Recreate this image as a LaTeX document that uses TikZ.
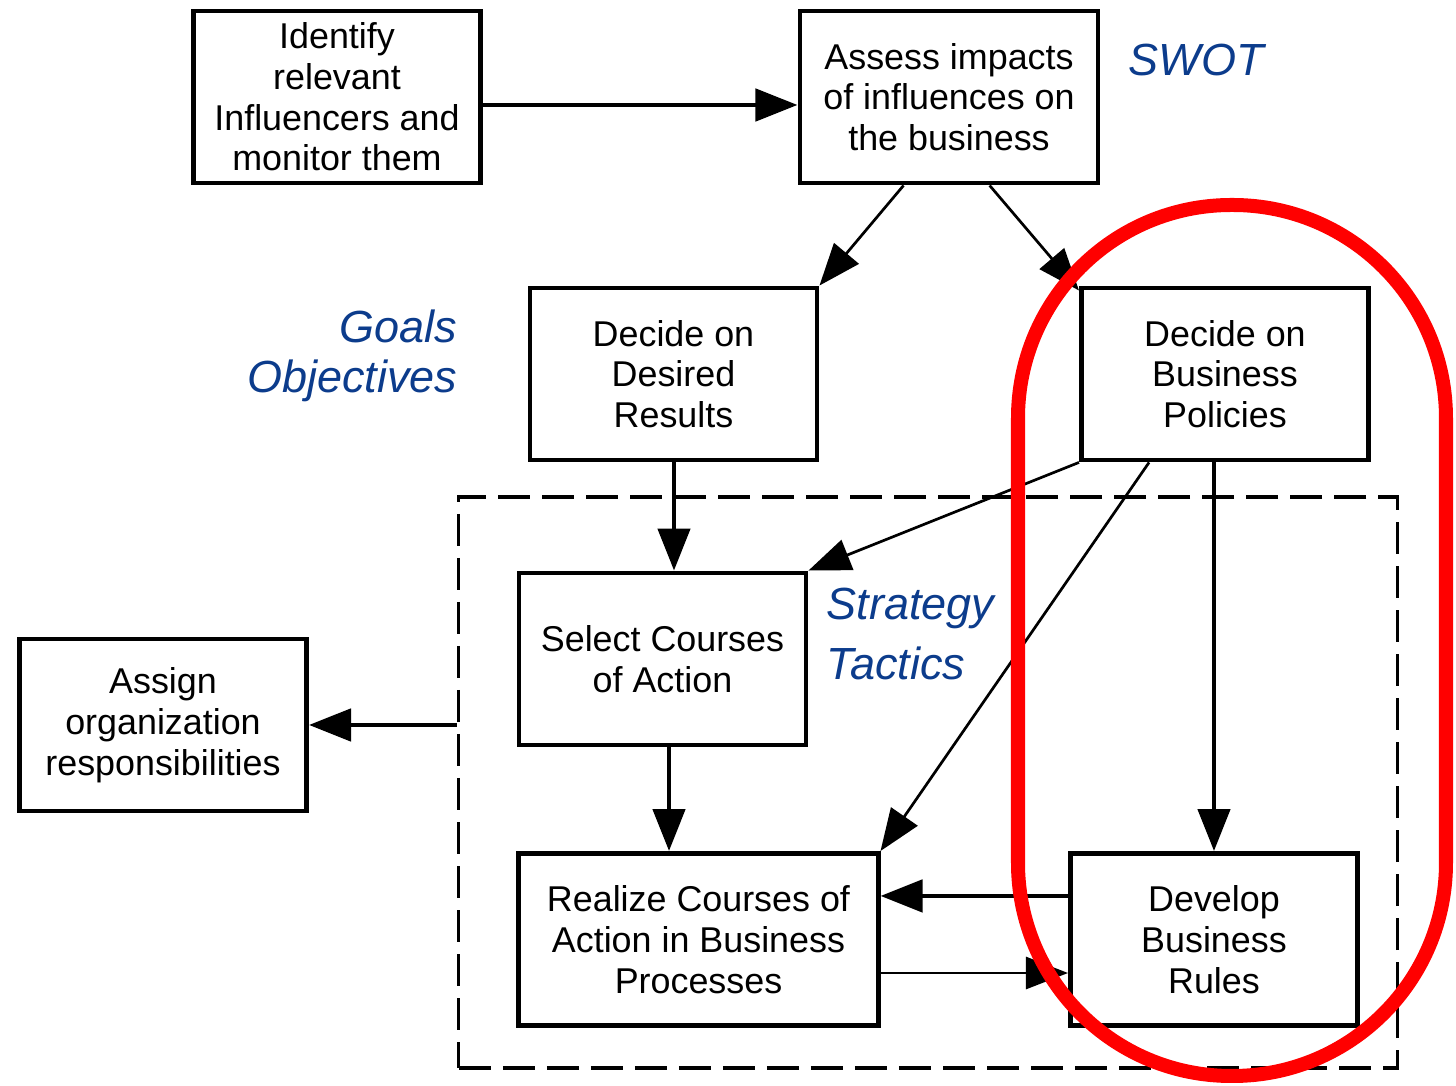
\documentclass[tikz,border=0pt]{standalone}
\usepackage{fontspec}
\setmainfont{Liberation Sans}
\usetikzlibrary{arrows.meta,calc}
\definecolor{lblblue}{RGB}{12,60,140}
\begin{document}
\begin{tikzpicture}[x=0.01cm,y=-0.01cm,
  box/.style={draw=black, line width=0.048cm, fill=white, inner sep=0pt,
    minimum width=2.87cm, minimum height=1.72cm, align=center,
    font=\fontsize{10.2pt}{11.6pt}\selectfont},
  widebox/.style={box, minimum width=3.59cm},
  tip/.style={-{Triangle[length=0.42cm,width=0.32cm]}},
  thickarr/.style={tip, line width=0.048cm},
  thinarr/.style={tip, line width=0.027cm},
  lbl/.style={text=lblblue, inner sep=0pt, font=\fontsize{12.8pt}{15pt}\selectfont\itshape},
  dashbox/.style={draw=black, line width=0.035cm, dash pattern=on 0.32cm off 0.12cm,
    inner sep=0pt, minimum width=9.38cm, minimum height=5.71cm},
  hilite/.style={draw=red, line width=0.14cm, rounded corners=2.13cm}
]
\useasboundingbox[fill=white] (0,0) rectangle (1456,1086);

\node[dashbox] (tact) at (928,782.5) {};

\node[box] (id) at (337,97) {Identify\\relevant\\Influencers and\\monitor them};
\node[box, minimum width=2.98cm] (as) at (949,97) {Assess impacts\\of influences on\\the business};
\node[box] (dr) at (673.5,374) {Decide on\\Desired\\Results};
\node[box] (bp) at (1225,374) {Decide on\\Business\\Policies};
\node[box] (sc) at (662.5,659) {Select Courses\\of Action};
\node[box] (ag) at (163,725) {Assign\\organization\\responsibilities};
\node[widebox] (rc) at (698.5,939.5) {Realize Courses of\\Action in Business\\Processes};
\node[box] (dv) at (1214,939.5) {Develop\\Business\\Rules};

\node[lbl, anchor=west] (swot) at (1128,60) {SWOT};
\node[lbl, anchor=east] (goals) at (458,326) {Goals};
\node[lbl, anchor=east] (obj) at (458,381) {Objectives};
\node[lbl, anchor=west] (strat) at (826,608) {Strategy};
\node[lbl, anchor=west] (tac) at (826,663) {Tactics};

% connectors
\draw[thickarr] ([yshift=-0.08cm]id.east) -- ([yshift=-0.08cm]as.west);
\draw[thinarr] ([xshift=1.06cm]as.south west) -- (dr.north east);
\draw[thinarr] ([xshift=1.92cm]as.south west) -- ([yshift=-0.05cm]bp.north west);
\draw[thickarr] ([xshift=0.005cm]dr.south) -- ([xshift=0.005cm]dr.south |- sc.north);
\draw[thinarr] (bp.south west) -- (sc.north east);
\draw[thinarr] ([xshift=0.7cm]bp.south west) -- (rc.north east);
\draw[thickarr] (bp.south -| dv.north) -- (dv.north);
\draw[thickarr] ([xshift=0.065cm]sc.south) -- ([xshift=0.065cm]sc.south |- rc.north);
\draw[thickarr] ([yshift=0.435cm]dv.west) -- ([yshift=0.435cm]dv.west -| rc.east);
\draw[thinarr] ([yshift=-0.335cm]rc.east) -- ([yshift=-0.335cm]rc.east -| dv.west);
\draw[thickarr] (tact.west |- ag.east) -- (ag.east);

% highlight
\draw[hilite] (1018,205) rectangle (1446,1076);
\end{tikzpicture}
\end{document}
